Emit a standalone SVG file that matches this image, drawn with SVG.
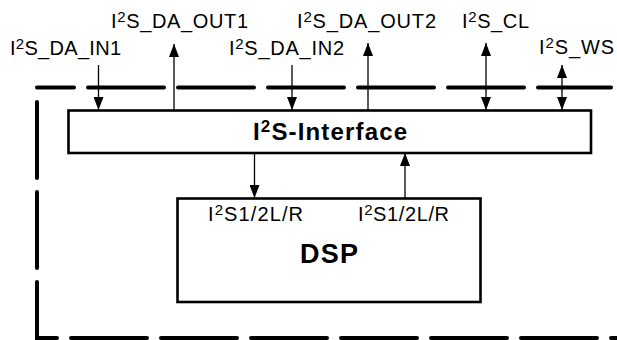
<svg xmlns="http://www.w3.org/2000/svg" width="617" height="340" viewBox="0 0 617 340">
<style>
  .lbl { font-family: "Liberation Sans", Arial, sans-serif; font-size: 20px; fill: #000; }
  .sup { font-size: 15px; }
  .bold { font-family: "Liberation Sans", Arial, sans-serif; font-weight: bold; fill: #000; }
  .box { fill: #fff; stroke: #000; stroke-width: 2.6; }
  .border { fill: none; stroke: #000; stroke-width: 4; stroke-linecap: round; stroke-dasharray: 76 14; }
  .conn { stroke: #000; stroke-width: 1.3; fill: none; }
</style>
<defs>
  <marker id="ah" markerUnits="userSpaceOnUse" markerWidth="13" markerHeight="10" refX="13" refY="5" orient="auto-start-reverse">
    <path d="M0,0 L13,5 L0,10 z" fill="#000"/>
  </marker>
</defs>
<rect width="617" height="340" fill="#fff"/>
<g id="border">
  <path class="border" d="M37,87.5 H611" stroke-dashoffset="39"/>
  <path class="border" d="M37,102 V338 H620"/>
</g>
<g id="connectors">
  <line class="conn" x1="98.5" y1="65" x2="98.5" y2="110" marker-end="url(#ah)"/>
  <line class="conn" x1="174" y1="110" x2="174" y2="44" marker-end="url(#ah)"/>
  <line class="conn" x1="292" y1="65" x2="292" y2="110" marker-end="url(#ah)"/>
  <line class="conn" x1="368" y1="110" x2="368" y2="43" marker-end="url(#ah)"/>
  <line class="conn" x1="486" y1="43" x2="486" y2="110" marker-start="url(#ah)" marker-end="url(#ah)"/>
  <line class="conn" x1="562" y1="65" x2="562" y2="110" marker-start="url(#ah)" marker-end="url(#ah)"/>
  <line class="conn" x1="254.5" y1="153" x2="254.5" y2="198" marker-end="url(#ah)"/>
  <line class="conn" x1="405" y1="198" x2="405" y2="153" marker-end="url(#ah)"/>
</g>
<g id="labels">
  <text class="lbl" x="10" y="55" textLength="111">I<tspan class="sup" dy="-6">2</tspan><tspan dy="6">S_DA_IN1</tspan></text>
  <text class="lbl" x="111" y="28" textLength="137">I<tspan class="sup" dy="-6">2</tspan><tspan dy="6">S_DA_OUT1</tspan></text>
  <text class="lbl" x="229" y="55" textLength="115">I<tspan class="sup" dy="-6">2</tspan><tspan dy="6">S_DA_IN2</tspan></text>
  <text class="lbl" x="297" y="28" textLength="139">I<tspan class="sup" dy="-6">2</tspan><tspan dy="6">S_DA_OUT2</tspan></text>
  <text class="lbl" x="462" y="28" textLength="67">I<tspan class="sup" dy="-6">2</tspan><tspan dy="6">S_CL</tspan></text>
  <text class="lbl" x="539" y="54" textLength="75">I<tspan class="sup" dy="-6">2</tspan><tspan dy="6">S_WS</tspan></text>
</g>
<g id="interface">
  <rect class="box" x="68.5" y="110.5" width="522.5" height="42.5"/>
  <text class="bold" x="253" y="140" font-size="24" textLength="154">I<tspan font-size="17" dy="-8">2</tspan><tspan dy="8">S-Interface</tspan></text>
</g>
<g id="dsp">
  <rect class="box" x="177.5" y="198.5" width="303" height="103.5"/>
  <text class="lbl" x="208" y="221" font-size="19" textLength="95">I<tspan class="sup" dy="-6">2</tspan><tspan dy="6">S1/2L/R</tspan></text>
  <text class="lbl" x="358" y="221" font-size="19" textLength="91">I<tspan class="sup" dy="-6">2</tspan><tspan dy="6">S1/2L/R</tspan></text>
  <text class="bold" x="300" y="263" font-size="27" textLength="58">DSP</text>
</g>
</svg>
